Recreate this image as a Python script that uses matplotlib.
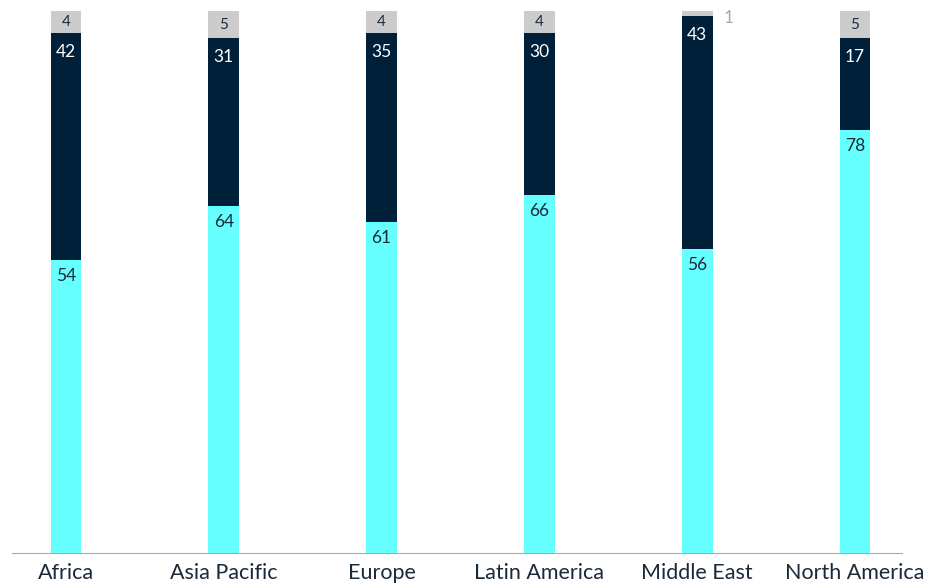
import matplotlib
matplotlib.use("Agg")
import matplotlib.pyplot as plt
import numpy as np

categories = ["Africa", "Asia Pacific", "Europe", "Latin America", "Middle East", "North America"]
bottom_vals = [54, 64, 61, 66, 56, 78]
middle_vals = [42, 31, 35, 30, 43, 17]
top_vals = [4, 5, 4, 4, 1, 5]

c_cyan = "#66FFFF"
c_navy = "#002039"
c_gray = "#CCCCCC"
c_text = "#1B2A3A"

plt.rcParams['font.family'] = ['Lato', 'DejaVu Sans']

fig = plt.figure(figsize=(9.42, 5.86), dpi=100)
ax = fig.add_axes([12/942, 33/586, 890/942, 542/586])

x = np.arange(len(categories))
w = 0.196
b = np.array(bottom_vals)
m = np.array(middle_vals)
t = np.array(top_vals)

ax.bar(x, b, width=w, color=c_cyan)
ax.bar(x, m, width=w, bottom=b, color=c_navy)
ax.bar(x, t, width=w, bottom=b + m, color=c_gray)

px = 100 / 542.0
for i in range(len(x)):
    ax.text(x[i], b[i] - 16 * px, str(b[i]), ha="center", va="center", fontsize=12.5, color=c_text)
    ax.text(x[i], b[i] + m[i] - 19 * px, str(m[i]), ha="center", va="center", fontsize=12.5, color="white")
    if t[i] >= 3:
        ax.text(x[i], b[i] + m[i] + t[i] / 2, str(t[i]), ha="center", va="center", fontsize=11, color=c_text)
    else:
        ax.text(x[i] + 0.2, b[i] + m[i] + t[i] - 7 * px, str(t[i]), ha="center", va="center", fontsize=12.5, color="#AAAAAA")

ax.set_xlim(-0.342, 5.298)
ax.set_ylim(0, 100)
ax.set_xticks(x)
ax.set_xticklabels(categories, fontsize=15.5, color=c_text)
ax.tick_params(axis="x", length=0, pad=7)
ax.set_yticks([])
for s in ["top", "right", "left"]:
    ax.spines[s].set_visible(False)
ax.spines["bottom"].set_color("#AAAAAA")
ax.spines["bottom"].set_linewidth(0.8)

fig.savefig("out.png", dpi=100)
